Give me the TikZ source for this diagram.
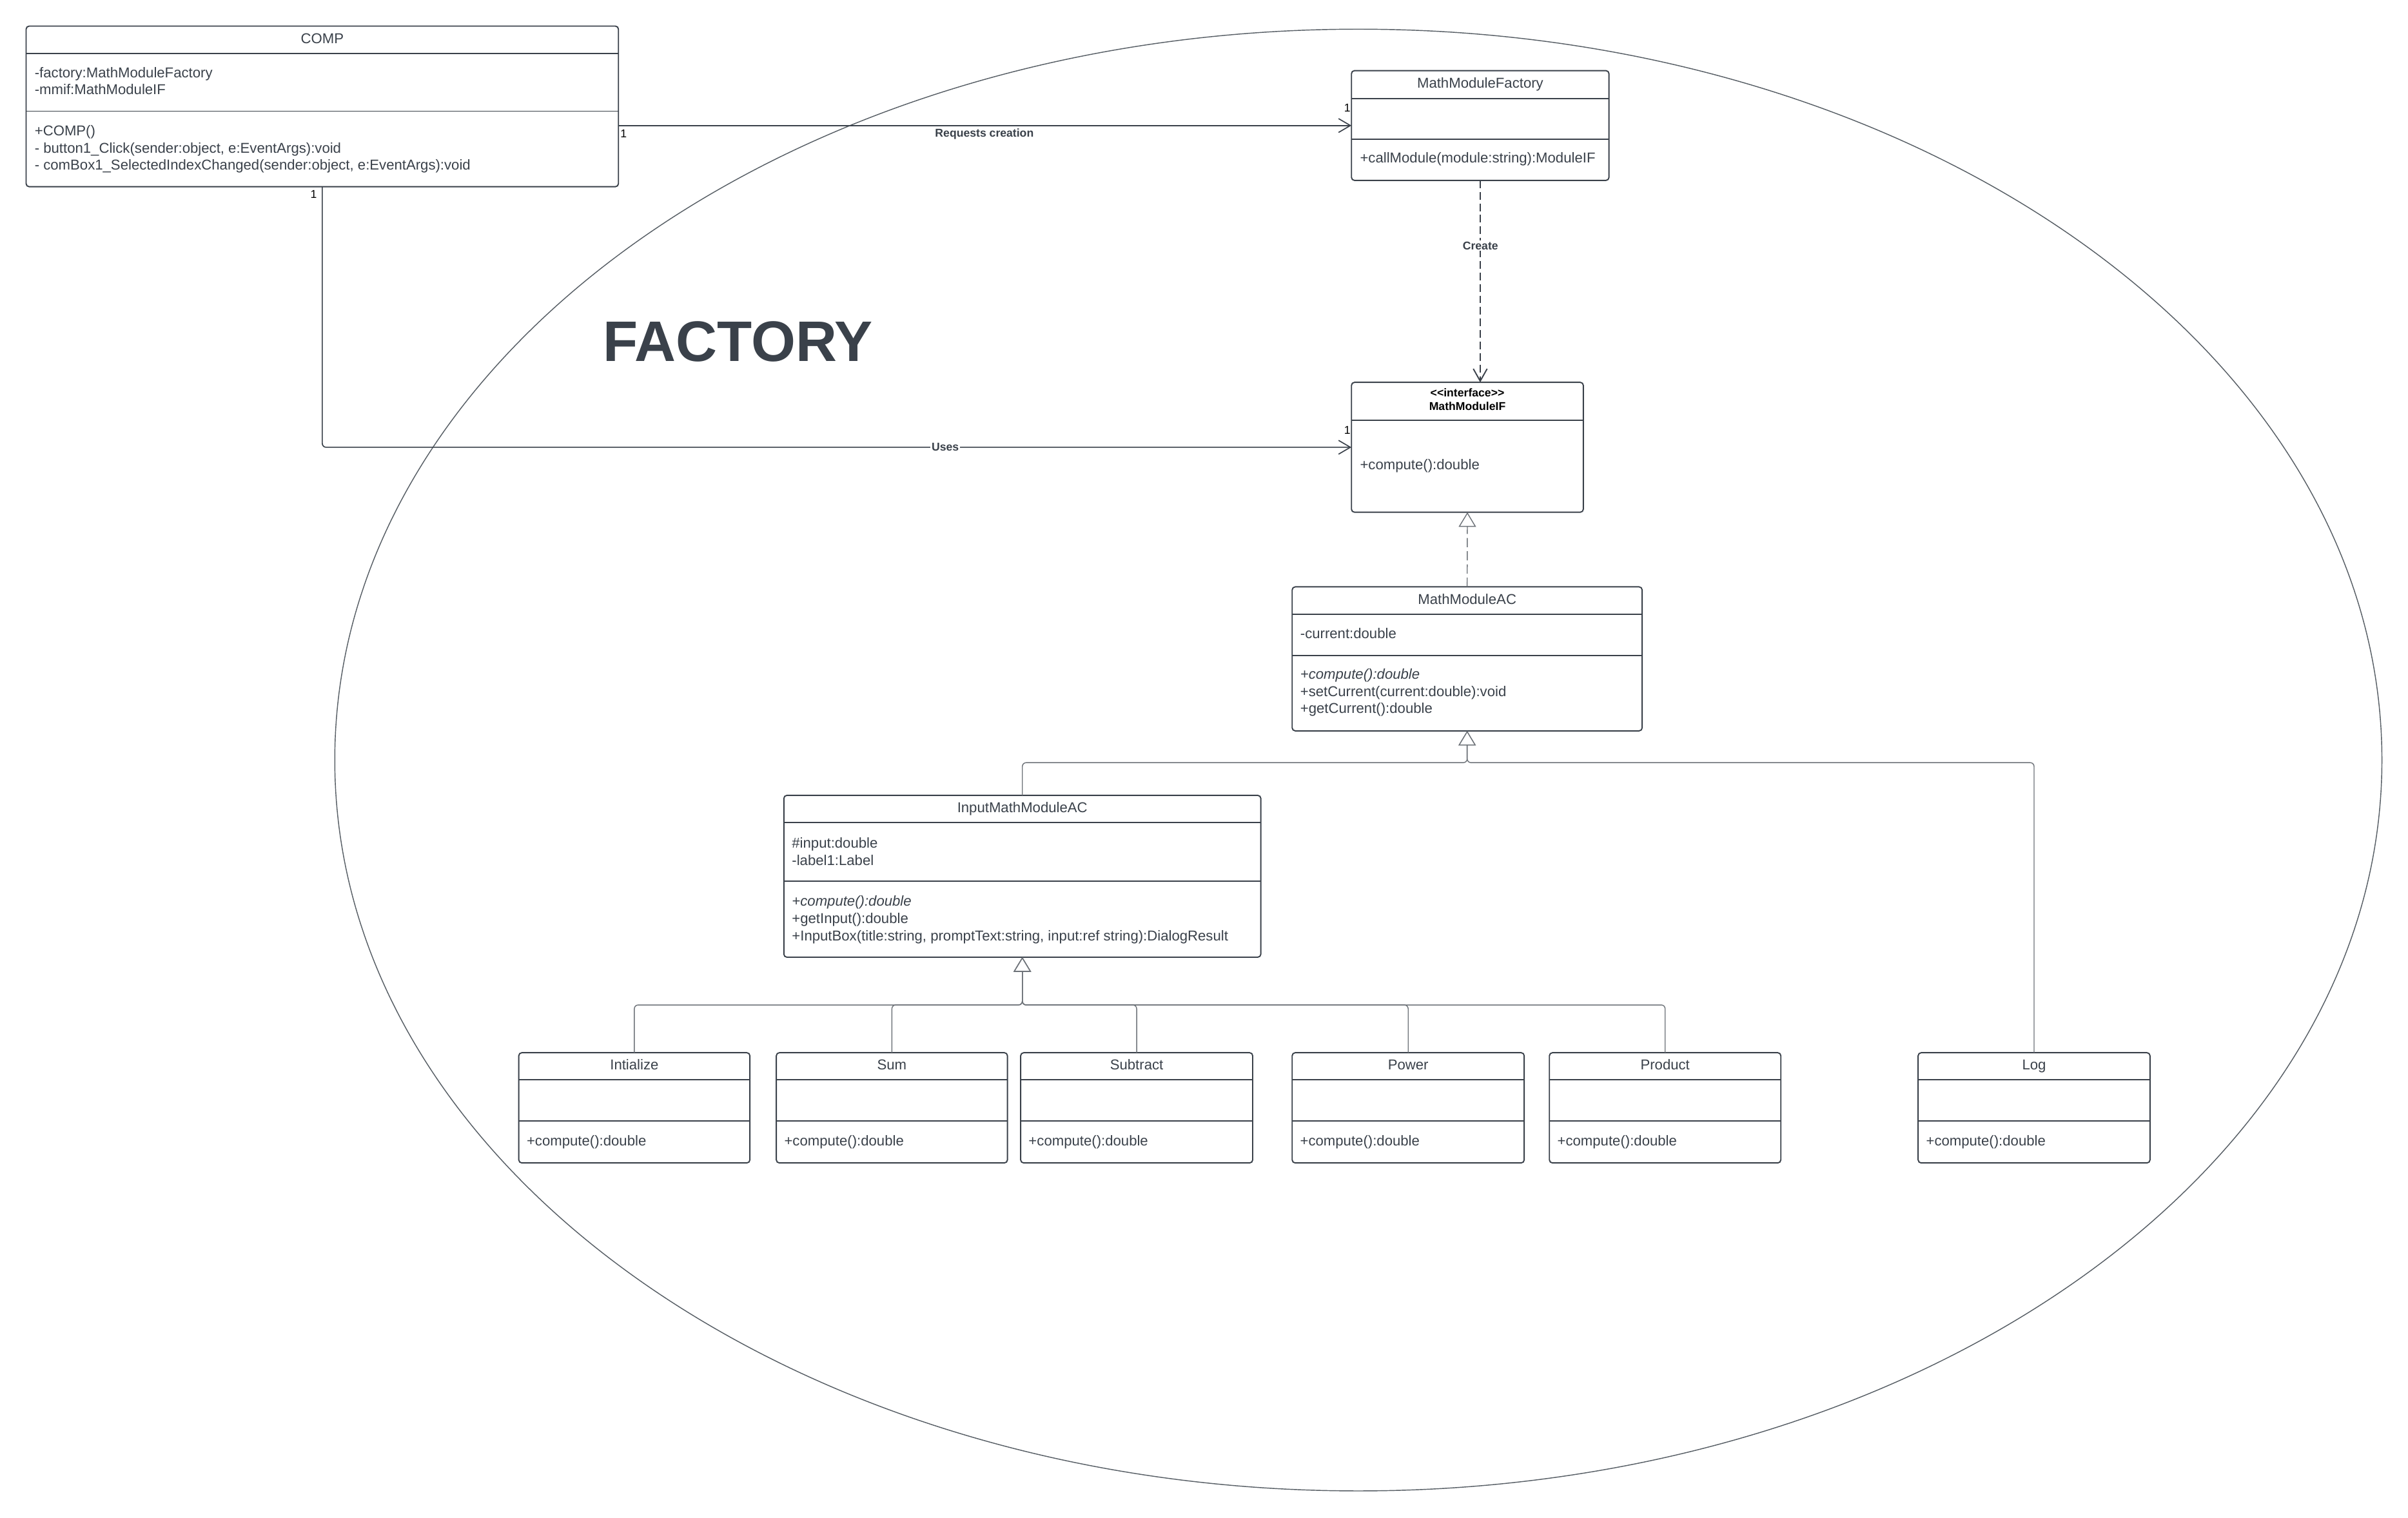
\documentclass[tikz,border=0pt]{standalone}
\usepackage{fontspec}
\setmainfont{Liberation Sans}
\usetikzlibrary{arrows.meta,calc}
\definecolor{ink}{HTML}{3A414A}
\definecolor{lgray}{HTML}{6E7379}
\tikzset{
  classbox/.style={draw=ink, fill=white, line width=0.8pt, rounded corners=2pt, anchor=north west, inner sep=0pt, outer sep=0pt},
  divider/.style={draw=ink, line width=0.8pt},
  txt/.style={text=ink, font=\fontsize{9.3}{11.2}\selectfont, inner sep=0pt, anchor=base west},
  ttl/.style={text=ink, font=\fontsize{9.3}{11.2}\selectfont, inner sep=0pt},
  lbl/.style={text=ink, font=\bfseries\fontsize{7.4}{9}\selectfont, inner sep=0.8pt},
  iflbl/.style={text=black, font=\bfseries\fontsize{7.4}{9}\selectfont, inner sep=0pt, anchor=base},
  mult/.style={text=black, font=\fontsize{7.4}{9}\selectfont, inner sep=0pt},
  assoc/.style={draw=ink, line width=0.7pt, -{Straight Barb[length=7.7pt,width=9pt]}},
  depline/.style={draw=ink, line width=0.8pt, dash pattern=on 5pt off 2.5pt, -{Straight Barb[length=8pt,width=9pt]}},
  realline/.style={draw=lgray, line width=0.6pt, dash pattern=on 6pt off 2.6pt, -{Triangle[fill=white,length=9.5pt,width=11.3pt]}},
  genline/.style={draw=lgray, line width=0.6pt, rounded corners=2.5pt, -{Triangle[fill=white,length=9.5pt,width=11.3pt]}},
  bigtitle/.style={text=ink, font=\bfseries\fontsize{37.2}{40}\selectfont, inner sep=0pt, anchor=base west}
}
\newcommand\umlclass[8]{%
  \node[classbox, minimum width={(#4-#2)*1pt}, minimum height={(#5-#3)*1pt}] (#1) at (#2,#3) {};
  \draw[divider] (#1.west |- 0,#6) -- (#1.east |- 0,#6);
  \def\umltmp{#7}\ifx\umltmp\empty\else\draw[divider] (#1.west |- 0,#7) -- (#1.east |- 0,#7);\fi
  \node[ttl, anchor=base] (#1-title) at ({(#2+#4)/2},{(#3+#6)/2+2.3}) {#8};
}
\newcommand\umllines[4]{%
  \foreach \t [count=\i] in {#4} {\node[txt] (#1-\i) at ({#2},{#3+(\i-1)*11.2}) {\t};}
}
\begin{document}
\begin{tikzpicture}[x=1pt,y=-1pt]
\fill[white] (0,0) rectangle (1568,988.65);
\useasboundingbox (0,0) rectangle (1568,988.65);

% enclosing ellipse
\draw[ink!85, line width=0.6pt] (884.5,495) ellipse [x radius=666.5pt, y radius=476pt];

% FACTORY title
\node[bigtitle] (factorytitle) at (392.5,235.1) {FACTORY};

% classes
\umlclass{comp}{17}{17}{402.7}{121.6}{34.7}{72.4}{COMP}
\umllines{comp-a}{22.4}{50.4}{{-factory:MathModuleFactory},{-mmif:MathModuleIF}}
\umllines{comp-m}{22.4}{88.3}{{+COMP()},{- button1\_Click(sender:object, e:EventArgs):void},{- comBox1\_SelectedIndexChanged(sender:object, e:EventArgs):void}}

\umlclass{fac}{880}{46}{1047.7}{117.5}{64.1}{90.8}{MathModuleFactory}
\umllines{fac-m}{885.4}{106.2}{{+callModule(module:string):ModuleIF}}

\umlclass{mif}{880}{249}{1031}{333.6}{273.7}{}{}
\node[iflbl] (mif-st) at (955.5,258.4) {<\kern0pt<interface>\kern0pt>};
\node[iflbl] (mif-nm) at (955.5,267.4) {MathModuleIF};
\umllines{mif-m}{885.4}{305.8}{{+compute():double}}

\umlclass{mac}{841.4}{382.2}{1069.3}{476}{400.2}{427}{MathModuleAC}
\umllines{mac-a}{846.5}{415.8}{{-current:double}}
\umllines{mac-m}{846.5}{442.3}{{\itshape +compute():double},{+setCurrent(current:double):void},{+getCurrent():double}}

\umlclass{imac}{510.4}{518}{821}{623.4}{535.8}{573.9}{InputMathModuleAC}
\umllines{imac-a}{515.5}{552.2}{{\#input:double},{-label1:Label}}
\umllines{imac-m}{515.5}{590.1}{{\itshape +compute():double},{+getInput():double},{+InputBox(title:string, promptText:string, input:ref string):DialogResult}}

\umlclass{init}{337.8}{685.6}{488.3}{757.4}{703.2}{730.2}{Intialize}
\umllines{init-m}{342.8}{746}{{+compute():double}}
\umlclass{sum}{505.5}{685.6}{656}{757.4}{703.2}{730.2}{Sum}
\umllines{sum-m}{510.5}{746}{{+compute():double}}
\umlclass{sub}{664.6}{685.6}{815.7}{757.4}{703.2}{730.2}{Subtract}
\umllines{sub-m}{669.6}{746}{{+compute():double}}
\umlclass{pow}{841.4}{685.6}{992.5}{757.4}{703.2}{730.2}{Power}
\umllines{pow-m}{846.4}{746}{{+compute():double}}
\umlclass{prod}{1008.9}{685.6}{1159.6}{757.4}{703.2}{730.2}{Product}
\umllines{prod-m}{1013.9}{746}{{+compute():double}}
\umlclass{log}{1249}{685.6}{1400}{757.4}{703.2}{730.2}{Log}
\umllines{log-m}{1254}{746}{{+compute():double}}

% associations
\draw[assoc] (comp.east |- fac.west) -- (fac.west);
\node[lbl] (req) at (641,87.1) {Requests creation};
\node[mult, anchor=west] (m1) at (403.8,87.2) {1};
\node[mult] (m2) at (877.3,70.4) {1};

\draw[assoc, rounded corners=2.5pt] (comp.south) -- (comp.south |- mif.west) -- (mif.west);
\node[lbl, fill=white] (uses) at (615.5,291.3) {Uses};
\node[mult] (m3) at (204.2,126.4) {1};
\node[mult] (m4) at (877.3,280) {1};

% dependency
\draw[depline] (fac.south) -- (fac.south |- mif.north);
\node[lbl, fill=white] (create) at (964,160) {Create};

% realization
\draw[realline] (mac.north) -- (mif.south);

% generalization to MathModuleAC
\coordinate (b1) at (mac.south |- 0,496.7);
\draw[genline] (imac.north) |- (b1) -- (mac.south);
\draw[genline] (log.north) |- (b1) -- (mac.south);

% generalization to InputMathModuleAC
\coordinate (b2) at (imac.south |- 0,654.5);
\foreach \c in {init,sum,sub,pow,prod} {\draw[genline] (\c.north) |- (b2) -- (imac.south);}
\end{tikzpicture}
\end{document}
